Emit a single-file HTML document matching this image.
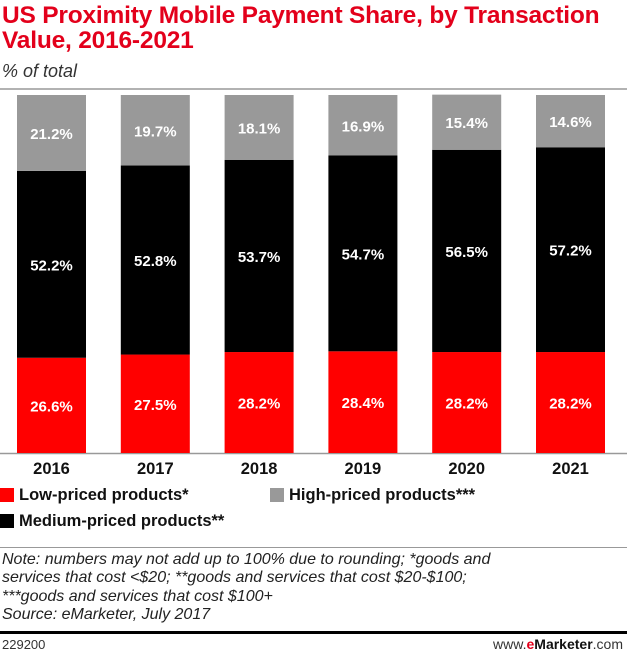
<!DOCTYPE html>
<html><head><meta charset="utf-8"><style>
body{margin:0;width:627px;height:654px;background:#fff;font-family:"Liberation Sans",sans-serif;overflow:hidden;position:relative}
.t{position:absolute;left:2px;top:3px;color:#e3001b;font-weight:bold;font-size:24.5px;line-height:25px;letter-spacing:-0.2px;white-space:nowrap}
.s{position:absolute;left:2px;top:61px;font-style:italic;font-size:18px;color:#333}
.lg{position:absolute;font-weight:bold;font-size:16.5px;color:#111}
.sw{display:inline-block;width:14px;height:14px;vertical-align:-2px;margin-right:5px}
.n{position:absolute;left:2px;top:551px;font-style:italic;font-size:16px;line-height:18.4px;color:#222;white-space:nowrap}
</style></head><body>
<div class="t">US Proximity Mobile Payment Share, by Transaction<br>Value, 2016-2021</div>
<div class="s">% of total</div>
<svg id="c" width="627" height="480" style="position:absolute;left:0;top:0">
<line x1="0" y1="89" x2="627" y2="89" stroke="#999" stroke-width="1.5"/>
<line x1="0" y1="453.5" x2="627" y2="453.5" stroke="#999" stroke-width="1.5"/>
</svg>
<div class="lg" style="left:0;top:486px"><span class="sw" style="background:#f00"></span>Low-priced products*</div>
<div class="lg" style="left:270px;top:486px"><span class="sw" style="background:#999"></span>High-priced products***</div>
<div class="lg" style="left:0;top:512px"><span class="sw" style="background:#000"></span>Medium-priced products**</div>
<div style="position:absolute;left:0;top:547px;width:627px;height:1px;background:#999"></div>
<div class="n">Note: numbers may not add up to 100% due to rounding; *goods and<br>services that cost &lt;$20; **goods and services that cost $20-$100;<br>***goods and services that cost $100+<br>Source: eMarketer, July 2017</div>
<div style="position:absolute;left:0;top:631px;width:627px;height:3px;background:#000"></div>
<div style="position:absolute;left:2px;top:637px;font-size:13px;color:#333">229200</div>
<div style="position:absolute;right:4px;top:636px;font-size:14px;color:#333">www.<b style="color:#e3001b">e</b><b style="color:#111">Marketer</b>.com</div>
<script>
const years=["2016","2017","2018","2019","2020","2021"];
const low=[26.6,27.5,28.2,28.4,28.2,28.2];
const medium=[52.2,52.8,53.7,54.7,56.5,57.2];
const high=[21.2,19.7,18.1,16.9,15.4,14.6];
const svg=document.getElementById('c');const NS='http://www.w3.org/2000/svg';
const y0=453,k=3.58,bw=69;
const xs=i=>17+i*103.8;
const ys=v=>y0-v*k;
function rect(x,y,h,f,name){const r=document.createElementNS(NS,'rect');r.setAttribute('x',x);r.setAttribute('y',y);r.setAttribute('width',bw);r.setAttribute('height',h);r.setAttribute('fill',f);


svg.appendChild(r);}
function txt(x,y,s,c,sz,name){const t=document.createElementNS(NS,'text');t.setAttribute('x',x);t.setAttribute('y',y);t.setAttribute('text-anchor','middle');t.setAttribute('fill',c);t.setAttribute('font-weight','bold');t.setAttribute('font-size',sz);t.setAttribute('font-family','Liberation Sans, sans-serif');t.textContent=s;


svg.appendChild(t);}
years.forEach((yr,i)=>{const x=xs(i),cx=x+bw/2;
const segs=[[low[i],'#f00','low'],[medium[i],'#000','medium'],[high[i],'#999','high']];
let acc=0;
segs.forEach(([v,c,n])=>{const top=ys(acc+v),bot=ys(acc);rect(x,top,bot-top,c,'bar-'+n+'-'+yr);txt(cx,(top+bot)/2+6,v.toFixed(1)+'%','#fff',15,'label-'+n+'-'+yr);acc+=v;});
txt(cx,474,yr,'#111',16.5,'x-label-'+yr);
});
</script>
</body></html>
